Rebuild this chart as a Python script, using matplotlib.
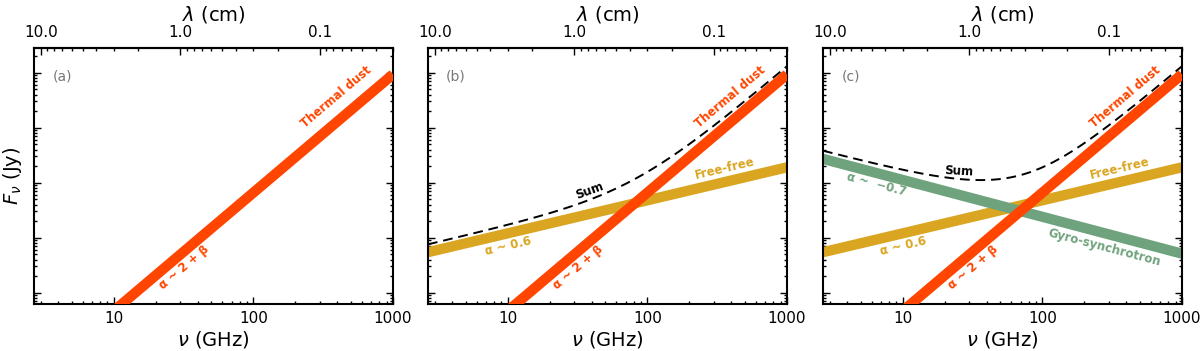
import numpy as np
import matplotlib
matplotlib.use("Agg")
import matplotlib.pyplot as plt
from matplotlib.ticker import LogLocator, FixedLocator, FixedFormatter, NullFormatter

# ---- data (power-law components: index, log10 flux at 1000 GHz) ----
nu_range = [2.68, 1000.0]            # GHz
y_range = [10**-0.205, 10**4.449]    # Jy (arbitrary units)
dust_index, dust_log1000 = 2.15, 3.97
ff_index, ff_log1000 = 0.6, 2.28
gyro_index, gyro_log1000 = -0.67, 0.71
sum_offset = 1.38                    # sum curve drawn slightly above components
panel_labels = ["(a)", "(b)", "(c)"]
nu_ticks = [10, 100, 1000]
lam_ticks = [10.0, 1.0, 0.1]
lam_ticklabels = ["10.0", "1.0", "0.1"]
lam_minor = [9, 8, 7, 6, 5, 4, 3, 2, 0.9, 0.8, 0.7, 0.6, 0.5, 0.4, 0.3, 0.2,
             0.09, 0.08, 0.07, 0.06, 0.05, 0.04, 0.03]

C_DUST = "#FF4500"
C_FF = "#DAA520"
C_GYRO = "#6FA37D"

def powerlaw(nu, idx, log1000):
    nu = np.asarray(nu, dtype=float)
    return 10**log1000 * (nu / 1000.0) ** idx

fig = plt.figure(figsize=(12, 3.51), dpi=100)
W, H = 1200.0, 351.0
lefts = [34, 428, 823]
axw, top, bot = 359, 48, 304

def label_on_line(ax, x, y, text, idx, color):
    p1 = ax.transData.transform((x, y))
    p2 = ax.transData.transform((x * 2.0, y * 2.0 ** idx))
    ang = np.degrees(np.arctan2(p2[1] - p1[1], p2[0] - p1[0]))
    ax.text(x, y, text, rotation=ang, rotation_mode="anchor", ha="center",
            va="center", color=color, fontsize=8.5, fontweight="bold")

C_LIGHT = 29.9792458  # cm GHz

for i in range(3):
    ax = fig.add_axes([lefts[i] / W, (H - bot) / H, axw / W, (bot - top) / H])
    ax.set_xscale("log")
    ax.set_yscale("log")
    ax.set_xlim(*nu_range)
    ax.set_ylim(*y_range)
    for s in ax.spines.values():
        s.set_linewidth(1.5)

    nu_end = np.array(nu_range)
    nu_grid = np.logspace(np.log10(nu_range[0]), np.log10(nu_range[1]), 300)
    ax.plot(nu_end, powerlaw(nu_end, dust_index, dust_log1000), color=C_DUST,
            lw=7.4, solid_capstyle="butt", zorder=3)
    total = powerlaw(nu_grid, dust_index, dust_log1000)
    if i >= 1:
        ax.plot(nu_end, powerlaw(nu_end, ff_index, ff_log1000), color=C_FF,
                lw=7.4, solid_capstyle="butt", zorder=2)
        total = total + powerlaw(nu_grid, ff_index, ff_log1000)
    if i == 2:
        ax.plot(nu_end, powerlaw(nu_end, gyro_index, gyro_log1000), color=C_GYRO,
                lw=7.4, solid_capstyle="butt", zorder=2.5)
        total = total + powerlaw(nu_grid, gyro_index, gyro_log1000)
    if i >= 1:
        ax.plot(nu_grid, total * sum_offset, color="black", lw=1.4,
                ls=(0, (5, 3)), zorder=4)

    ax.text(0.078, 0.89, panel_labels[i], transform=ax.transAxes, color="#777777",
            fontsize=10, ha="center", va="center")
    label_on_line(ax, 10**2.59, 10**3.564, "Thermal dust", dust_index, C_DUST)
    label_on_line(ax, 10**1.5, 10**0.462, "α ~ 2 + β", dust_index, C_DUST)
    if i >= 1:
        label_on_line(ax, 10**2.555, 10**2.262, "Free-free", ff_index, C_FF)
        label_on_line(ax, 10**1.0, 10**0.855, "α ~ 0.6", ff_index, C_FF)
    if i == 1:
        ax.text(10**1.586, 10**1.855, "Sum", rotation=20, rotation_mode="anchor",
                ha="center", va="center", fontsize=8.5, fontweight="bold", color="black")
    if i == 2:
        ax.text(10**1.4, 10**2.2, "Sum", rotation=-3, rotation_mode="anchor",
                ha="center", va="center", fontsize=8.5, fontweight="bold", color="black")
        label_on_line(ax, 10**0.812, 10**1.976, "α ~  −0.7", gyro_index, C_GYRO)
        label_on_line(ax, 10**2.443, 10**0.825, "Gyro-synchrotron", gyro_index, C_GYRO)

    ax.xaxis.set_major_locator(FixedLocator(nu_ticks))
    ax.xaxis.set_major_formatter(FixedFormatter([str(t) for t in nu_ticks]))
    ax.xaxis.set_minor_locator(LogLocator(base=10, subs=np.arange(2, 10), numticks=20))
    ax.xaxis.set_minor_formatter(NullFormatter())
    ax.yaxis.set_major_locator(LogLocator(base=10, numticks=20))
    ax.yaxis.set_minor_locator(LogLocator(base=10, subs=np.arange(2, 10), numticks=20))
    ax.yaxis.set_major_formatter(NullFormatter())
    ax.yaxis.set_minor_formatter(NullFormatter())
    ax.tick_params(which="both", direction="in", top=False, right=True, labelsize=11,
                   width=1.0, pad=5)
    ax.tick_params(which="major", length=5)
    ax.tick_params(which="minor", length=2.5)
    ax.set_xlabel(r"$\nu$ (GHz)", fontsize=14, labelpad=2)
    if i == 0:
        fig.text(12 / W, 1 - 176 / H, r"$F_\nu$ (Jy)", fontsize=14, rotation=90,
                 ha="center", va="center")

    sec = ax.secondary_xaxis("top", functions=(lambda n: C_LIGHT / n,
                                              lambda l: C_LIGHT / l))
    sec.xaxis.set_major_locator(FixedLocator(lam_ticks))
    sec.xaxis.set_major_formatter(FixedFormatter(lam_ticklabels))
    sec.xaxis.set_minor_locator(FixedLocator(lam_minor))
    sec.xaxis.set_minor_formatter(NullFormatter())
    sec.tick_params(which="both", direction="in", labelsize=11, width=1.0, pad=6)
    sec.tick_params(which="major", length=5)
    sec.tick_params(which="minor", length=2.5)
    sec.spines["top"].set_linewidth(1.5)
    sec.set_xlabel(r"$\lambda$ (cm)", fontsize=14, labelpad=3)

fig.savefig("out.png", dpi=100)
